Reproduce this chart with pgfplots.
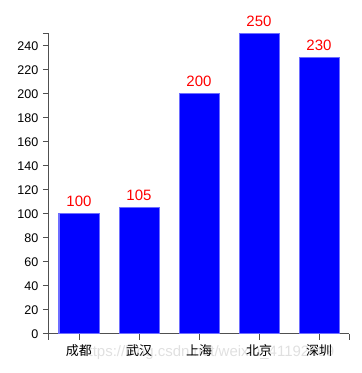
\documentclass[border=0pt]{standalone}
\usepackage{fontspec}
\setmainfont{Liberation Sans}
\newfontfamily\cjk{Noto Sans CJK SC}
\usepackage{pgfplots}
\pgfplotsset{compat=1.18}
\definecolor{axisgray}{RGB}{80,80,80}
\definecolor{barblue}{RGB}{0,0,255}
\definecolor{barline}{RGB}{110,110,255}
\begin{document}
\begin{tikzpicture}
\useasboundingbox (0,0) rectangle (270.75pt,279.75pt);
\node[anchor=west, font=\fontsize{11.25pt}{12pt}\selectfont, text=black!12, inner sep=0pt] at (60pt,15pt) {https://blog.csdn.net/weixin\_41192489};
\begin{axis}[
  at={(36.75pt,29.25pt)}, anchor=south west,
  scale only axis, width=225pt, height=225pt,
  xmin=-0.5, xmax=4.5, ymin=0, ymax=250,
  axis x line*=bottom, axis y line*=left,
  axis line style={axisgray, line width=0.75pt},
  tick style={axisgray, line width=0.75pt},
  tick align=outside, major tick length=4.5pt,
  xtick={0,...,4}, xticklabels={成都,武汉,上海,北京,深圳},
  xticklabel style={font=\cjk\fontsize{9.75pt}{10pt}\selectfont},
  ytick={0,20,...,240},
  extra y ticks={250}, extra y tick labels={},
  extra x ticks={-0.5,4.5}, extra x tick labels={},
  yticklabel style={font=\fontsize{9.4pt}{10pt}\selectfont},
  /pgf/number format/assume math mode=true,
  ybar, bar width=30pt,
  nodes near coords,
  every node near coord/.append style={font=\fontsize{11.25pt}{12pt}\selectfont, text=red, anchor=base, yshift=5.25pt},
  clip=false,
]
\addplot[fill=barblue, draw=barline, line width=0.75pt] coordinates {(0,100)(1,105)(2,200)(3,250)(4,230)};
\end{axis}
\end{tikzpicture}
\end{document}
